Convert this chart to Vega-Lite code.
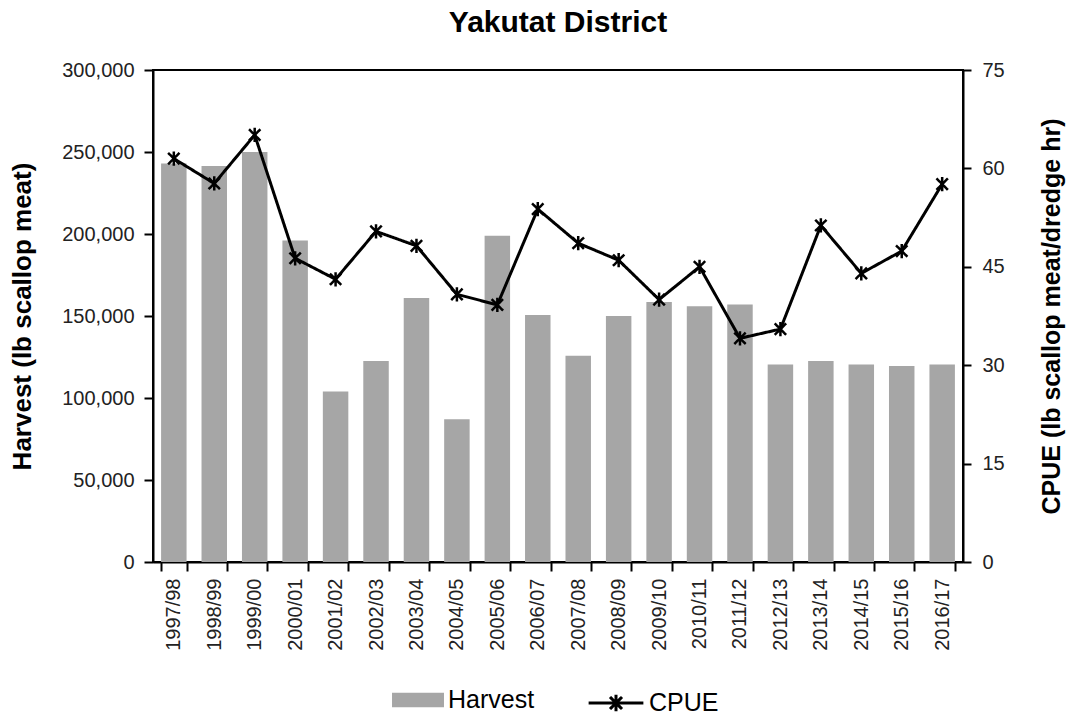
{
  "$schema": "https://vega.github.io/schema/vega-lite/v6.json",
  "width": 810,
  "height": 492,
  "autosize": {"type": "none"},
  "padding": {"left": 153, "top": 70, "right": 109, "bottom": 156},
  "background": "white",
  "title": {"text": "Yakutat District", "font": "Liberation Sans", "fontSize": 30, "fontWeight": "bold", "color": "black", "anchor": "middle", "offset": 22},
  "config": {
    "view": {"stroke": "black", "strokeWidth": 2},
    "axis": {"labelFont": "Liberation Sans", "titleFont": "Liberation Sans", "labelColor": "#222222", "titleColor": "black", "domainColor": "black", "tickColor": "black", "domainWidth": 2, "tickWidth": 2, "grid": false},
    "legend": {"labelFont": "Liberation Sans", "labelFontSize": 25, "labelColor": "black", "labelOffset": 4}
  },
  "data": {"values": [
    {"season": "1997/98", "harvest": 243000, "cpue": 61.5},
    {"season": "1998/99", "harvest": 241500, "cpue": 57.7},
    {"season": "1999/00", "harvest": 250000, "cpue": 65.1},
    {"season": "2000/01", "harvest": 196000, "cpue": 46.3},
    {"season": "2001/02", "harvest": 104000, "cpue": 43.1},
    {"season": "2002/03", "harvest": 122500, "cpue": 50.4},
    {"season": "2003/04", "harvest": 161000, "cpue": 48.2},
    {"season": "2004/05", "harvest": 87000, "cpue": 40.8},
    {"season": "2005/06", "harvest": 199000, "cpue": 39.2},
    {"season": "2006/07", "harvest": 150600, "cpue": 53.8},
    {"season": "2007/08", "harvest": 125800, "cpue": 48.6},
    {"season": "2008/09", "harvest": 150000, "cpue": 46.0},
    {"season": "2009/10", "harvest": 158500, "cpue": 40.0},
    {"season": "2010/11", "harvest": 156000, "cpue": 45.0},
    {"season": "2011/12", "harvest": 157000, "cpue": 34.1},
    {"season": "2012/13", "harvest": 120500, "cpue": 35.5},
    {"season": "2013/14", "harvest": 122500, "cpue": 51.3},
    {"season": "2014/15", "harvest": 120500, "cpue": 44.0},
    {"season": "2015/16", "harvest": 119500, "cpue": 47.4},
    {"season": "2016/17", "harvest": 120500, "cpue": 57.6}
  ]},
  "encoding": {
    "x": {"field": "season", "type": "nominal", "sort": null,
      "scale": {"paddingInner": 0.37, "paddingOuter": 0.2},
      "axis": {"title": null, "labelAngle": -90, "labelFontSize": 20, "labelPadding": 7, "tickBand": "extent", "tickSize": 9, "labelBaseline": "middle", "labelAlign": "right"}}
  },
  "layer": [
    {
      "mark": {"type": "bar"},
      "encoding": {
        "y": {"field": "harvest", "type": "quantitative", "scale": {"domain": [0, 300000]},
          "axis": {"title": "Harvest (lb scallop meat)", "titleFontSize": 26, "titleFontWeight": "bold", "titlePadding": 26, "labelFontSize": 20, "format": ",.0f", "values": [0, 50000, 100000, 150000, 200000, 250000, 300000], "tickSize": 9, "labelPadding": 10}},
        "color": {"datum": "Harvest", "type": "nominal",
          "scale": {"domain": ["Harvest"], "range": ["#a6a6a6"]},
          "legend": {"title": null, "orient": "none", "legendX": 239, "legendY": 604, "symbolType": "M-1,-0.28H1V0.28H-1Z", "symbolSize": 2700, "symbolStrokeWidth": 0, "symbolOpacity": 1}}
      }
    },
    {
      "mark": {"type": "line", "color": "black", "strokeWidth": 3,
        "point": {"shape": "M-1,-1L1,1M-1,1L1,-1M0,-1.25L0,1.25", "filled": false, "size": 130, "strokeWidth": 2.5, "color": "black", "opacity": 1}},
      "encoding": {
        "y": {"field": "cpue", "type": "quantitative", "scale": {"domain": [0, 75]},
          "axis": {"orient": "right", "title": "CPUE (lb scallop meat/dredge hr)", "titleAngle": -90, "titleFontSize": 25, "titleFontWeight": "bold", "titlePadding": 60, "labelFontSize": 20, "values": [0, 15, 30, 45, 60, 75], "tickSize": 8, "labelPadding": 11}},
        "strokeDash": {"datum": "CPUE", "type": "nominal",
          "scale": {"domain": ["CPUE"], "range": [[1, 0]]},
          "legend": {"title": null, "orient": "none", "legendX": 434, "legendY": 604, "symbolType": "M-1,0H1M-0.22,-0.22L0.22,0.22M-0.22,0.22L0.22,-0.22M0,-0.3V0.3", "symbolSize": 3000, "symbolStrokeColor": "black", "symbolFillColor": "transparent", "symbolStrokeWidth": 3, "symbolOpacity": 1, "symbolDash": [1, 0]}}
      }
    }
  ],
  "resolve": {"scale": {"y": "independent"}}
}
